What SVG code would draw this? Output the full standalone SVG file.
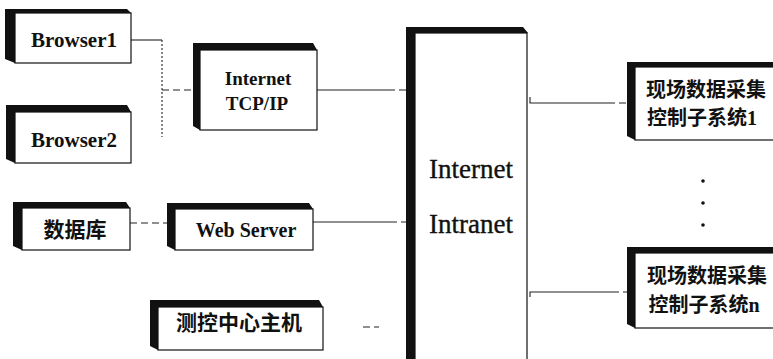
<svg xmlns="http://www.w3.org/2000/svg" width="773" height="359" viewBox="0 0 773 359">
  <style>
    .depth { fill: #111; }
    .face { fill: #fff; stroke: #111; stroke-width: 1.2; }
    .lat { font-family: "Liberation Serif", "Times New Roman", serif; font-weight: bold; fill: #111; text-anchor: middle; }
    .net { font-family: "Liberation Serif", "Times New Roman", serif; font-size: 27px; fill: #111; stroke: #111; stroke-width: 0.35; text-anchor: middle; }
    .cjk { font-family: "Liberation Serif", "Noto Sans CJK SC", sans-serif; font-weight: bold; fill: #111; text-anchor: middle; }
    .link { fill: none; stroke: #222; stroke-width: 1.1; }
    .dot { stroke-dasharray: 2 2; }
    .dash { stroke-dasharray: 7 4; }
    .ell { fill: #111; }
  </style>

  <!-- connectors -->
  <g id="connectors">
    <path class="link" d="M131,40 H162"/>
    <path class="link dot" d="M162,40 V137"/>
    <path class="link dash" d="M162,90 H193"/>
    <path class="link" d="M317,90 H388"/>
    <path class="link dash" d="M388,90 H406"/>
    <path class="link dash" d="M130,223 H167"/>
    <path class="link" d="M313,222 H390"/>
    <path class="link dash" d="M390,222 H406"/>
    <path class="link dash" d="M363,327 H379" stroke-dasharray="4 4"/>
    <path class="link" d="M530,97 V103 H608"/>
    <path class="link dash" d="M608,103 H627"/>
    <path class="link" d="M530,297 V292 H612"/>
    <path class="link dash" d="M612,292 H627"/>
  </g>

  <!-- vertical ellipsis between the subsystems -->
  <g id="ellipsis">
    <circle class="ell" cx="703" cy="181" r="1.8"/>
    <circle class="ell" cx="703" cy="203" r="1.8"/>
    <circle class="ell" cx="703" cy="225" r="1.8"/>
  </g>

  <g id="browser1">
    <polygon class="depth" points="5,9 127,9 131,13 15,13 15,63 5,59"/>
    <rect class="face" x="15" y="13" width="116" height="50"/>
    <text class="lat" x="74" y="47" font-size="21">Browser1</text>
  </g>

  <g id="browser2">
    <polygon class="depth" points="6,105 127,105 131,112 15,112 15,163 6,159"/>
    <rect class="face" x="15" y="112" width="116" height="51"/>
    <text class="lat" x="74" y="147" font-size="21">Browser2</text>
  </g>

  <g id="tcpip">
    <polygon class="depth" points="193,43 313,43 317,50 200,50 200,130 193,126"/>
    <rect class="face" x="200" y="50" width="117" height="80"/>
    <text class="lat" x="258" y="85" font-size="19">Internet</text>
    <text class="lat" x="257" y="110" font-size="19">TCP/IP</text>
  </g>

  <g id="database">
    <polygon class="depth" points="13,202 126,202 130,208 22,208 22,250 13,246"/>
    <rect class="face" x="22" y="208" width="108" height="42"/>
    <text class="cjk" x="75" y="237" font-size="21">数据库</text>
  </g>

  <g id="webserver">
    <polygon class="depth" points="167,203 309,203 313,209 175,209 175,250 167,246"/>
    <rect class="face" x="175" y="209" width="138" height="41"/>
    <text class="lat" x="246" y="237" font-size="20">Web Server</text>
  </g>

  <g id="host">
    <polygon class="depth" points="150,300 319,300 323,307 158,307 158,350 150,346"/>
    <rect class="face" x="158" y="307" width="165" height="43"/>
    <text class="cjk" x="239" y="330" font-size="21">测控中心主机</text>
  </g>

  <g id="network">
    <polygon class="depth" points="406,27 523,27 528,33 415,33 415,359 406,359"/>
    <rect class="face" x="415" y="33" width="112" height="330"/>
    <text class="net" x="471" y="178">Internet</text>
    <text class="net" x="471" y="233">Intranet</text>
  </g>

  <g id="subsystem1">
    <polygon class="depth" points="627,62 775,62 775,67 635,67 635,140 627,136"/>
    <rect class="face" x="635" y="67" width="145" height="73"/>
    <text class="cjk" x="706" y="97" font-size="20">现场数据采集</text>
    <text class="cjk" x="702" y="125" font-size="20">控制子系统1</text>
  </g>

  <g id="subsystemn">
    <polygon class="depth" points="627,247 775,247 775,253 635,253 635,328 627,324"/>
    <rect class="face" x="635" y="253" width="145" height="75"/>
    <text class="cjk" x="707" y="283" font-size="20">现场数据采集</text>
    <text class="cjk" x="704" y="312" font-size="20">控制子系统n</text>
  </g>
</svg>
